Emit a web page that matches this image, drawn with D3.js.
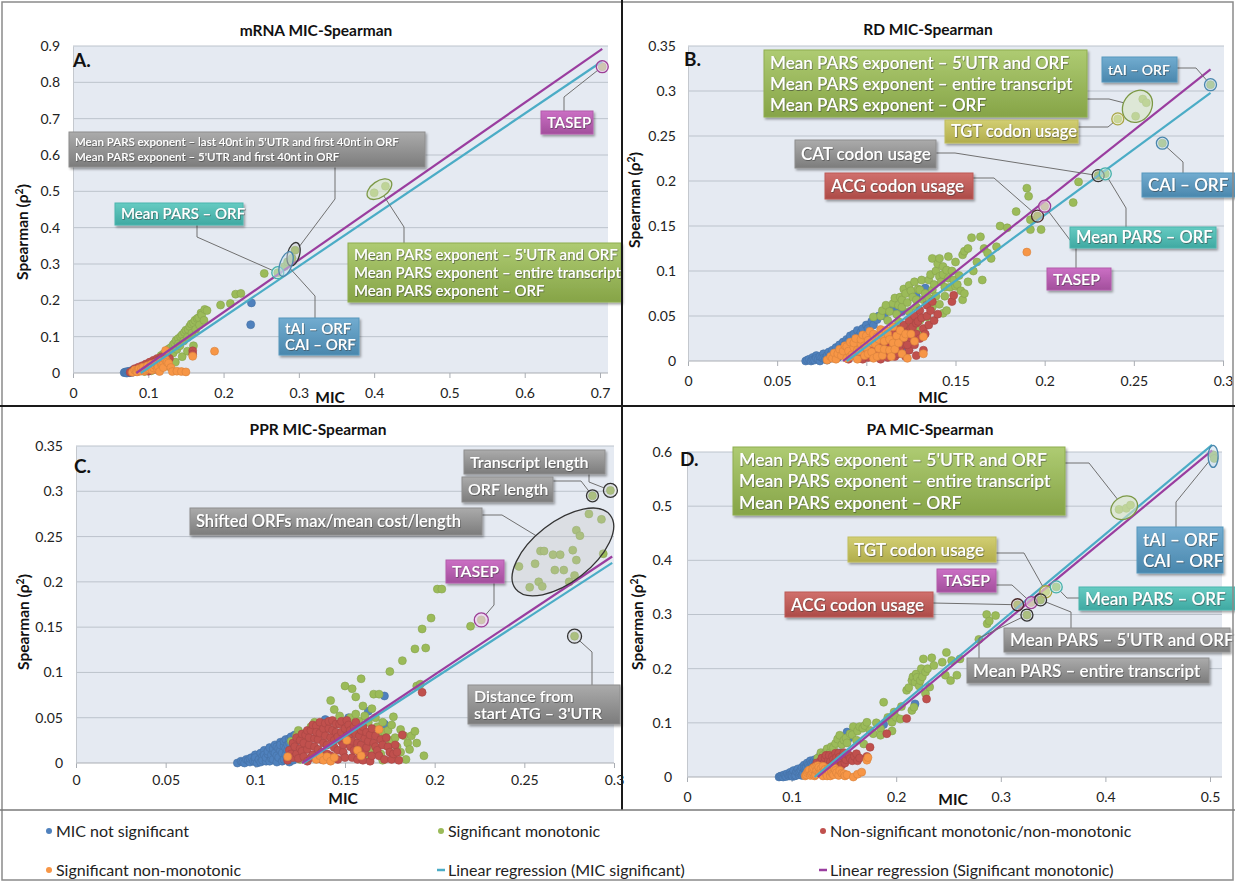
<!DOCTYPE html>
<html>
<head>
<meta charset="utf-8">
<script src="https://cdn.jsdelivr.net/npm/d3@7"></script>
<style>
  body { margin: 0; background: #fff; }
  text { font-family: Lato, "Open Sans", sans-serif; }
</style>
</head>
<body>
<svg id="chart" width="1235" height="882"></svg>
<script>
// ---- data: [MIC, Spearman rho^2] ----

// A. mRNA
const aBlue = [[0.068,0.001],[0.069,0.002],[0.07,0.003],[0.071,0.001],[0.072,0],[0.073,0.004],[0.074,0.004],[0.075,0.001],[0.076,0.002],[0.077,0.006],[0.078,0.004],[0.079,0.002],[0.08,0.008],[0.081,0.005],[0.082,0.004],[0.083,0.007],[0.084,0.011],[0.085,0.009],[0.086,0.006],[0.087,0.01],[0.089,0.013],[0.092,0.009],[0.095,0.016],[0.237,0.193],[0.236,0.133]];
const aGreen = [[0.095,0.004],[0.1,0.012],[0.102,0.02],[0.104,0.006],[0.106,0.012],[0.107,0.02],[0.109,0.025],[0.11,0.03],[0.112,0.035],[0.113,0.015],[0.114,0.022],[0.116,0.04],[0.117,0.048],[0.118,0.026],[0.12,0.052],[0.121,0.044],[0.123,0.036],[0.124,0.05],[0.125,0.06],[0.127,0.066],[0.128,0.045],[0.128,0.018],[0.13,0.07],[0.13,0.06],[0.133,0.055],[0.133,0.078],[0.135,0.082],[0.136,0.03],[0.137,0.09],[0.138,0.065],[0.14,0.095],[0.14,0.08],[0.142,0.075],[0.143,0.1],[0.145,0.105],[0.145,0.045],[0.147,0.088],[0.148,0.112],[0.15,0.118],[0.152,0.098],[0.152,0.06],[0.153,0.12],[0.155,0.128],[0.157,0.135],[0.158,0.11],[0.16,0.138],[0.16,0.075],[0.162,0.145],[0.163,0.12],[0.165,0.15],[0.167,0.152],[0.168,0.132],[0.17,0.165],[0.171,0.16],[0.174,0.145],[0.175,0.175],[0.178,0.172],[0.196,0.187],[0.209,0.191],[0.216,0.217],[0.223,0.219],[0.254,0.274],[0.272,0.276],[0.281,0.293],[0.285,0.306],[0.291,0.316],[0.295,0.338],[0.4,0.496],[0.415,0.514],[0.703,0.843]];
const aRed = [[0.076,0.002],[0.079,0.006],[0.08,0.003],[0.082,0.012],[0.083,0.008],[0.085,0.004],[0.087,0.016],[0.088,0.006],[0.09,0.009],[0.091,0.014],[0.092,0.02],[0.094,0.008],[0.095,0.013],[0.097,0.025],[0.098,0.019],[0.1,0.017],[0.1,0.005],[0.102,0.03],[0.103,0.024],[0.105,0.022],[0.106,0.015],[0.107,0.035],[0.108,0.03],[0.11,0.026],[0.11,0.01],[0.112,0.04],[0.113,0.035],[0.115,0.03],[0.116,0.038],[0.118,0.045],[0.12,0.042],[0.121,0.035],[0.125,0.048],[0.128,0.04],[0.159,0.061],[0.159,0.052]];
const aOrange = [[0.079,0.002],[0.082,0.008],[0.084,0.006],[0.085,0.003],[0.087,0.009],[0.088,0.012],[0.09,0.005],[0.091,0.013],[0.093,0.016],[0.095,0.005],[0.096,0.008],[0.098,0.012],[0.099,0.02],[0.101,0.011],[0.102,0.017],[0.104,0.024],[0.105,0.008],[0.107,0.014],[0.109,0.021],[0.11,0.028],[0.112,0.012],[0.113,0.018],[0.115,0.004],[0.116,0.032],[0.117,0.025],[0.119,0.022],[0.12,0.015],[0.123,0.037],[0.125,0.03],[0.127,0.027],[0.13,0.015],[0.123,0.062],[0.159,0.046],[0.188,0.06],[0.132,0.004],[0.138,0.005],[0.144,0.004],[0.15,0.003]];
const aTeal = [[0.09,0],[0.703,0.858]];
const aPurple = [[0.084,0],[0.703,0.892]];

// B. RD
const bBlue = [[0.066,0],[0.067,0.001],[0.068,0.002],[0.069,0],[0.07,0.004],[0.07,0.001],[0.071,0.001],[0.072,0.006],[0.072,0.003],[0.073,0.002],[0.074,0],[0.074,0.005],[0.075,0.004],[0.076,0.008],[0.076,0.003],[0.077,0.002],[0.078,0.006],[0.078,0.001],[0.079,0.01],[0.08,0.003],[0.08,0.007],[0.081,0.012],[0.081,0.004],[0.082,0.007],[0.083,0.015],[0.083,0.009],[0.084,0.004],[0.085,0.018],[0.085,0.006],[0.086,0.01],[0.086,0.014],[0.087,0.021],[0.088,0.009],[0.088,0.018],[0.089,0.024],[0.09,0.014],[0.09,0.022],[0.091,0.028],[0.092,0.019],[0.093,0.03],[0.094,0.024],[0.095,0.034],[0.096,0.028],[0.097,0.032],[0.098,0.036],[0.1,0.04],[0.101,0.036],[0.103,0.044],[0.104,0.04],[0.106,0.046],[0.107,0.05],[0.11,0.05],[0.113,0.056],[0.116,0.06],[0.117,0.015],[0.121,0.01],[0.12,0.055],[0.128,0.072],[0.133,0.081]];
const bGreen = [[0.104,0.049],[0.108,0.05],[0.109,0.056],[0.111,0.062],[0.112,0.045],[0.113,0.055],[0.115,0.064],[0.116,0.07],[0.117,0.052],[0.118,0.062],[0.118,0.044],[0.119,0.071],[0.12,0.06],[0.12,0.068],[0.121,0.08],[0.122,0.075],[0.122,0.038],[0.123,0.065],[0.124,0.084],[0.124,0.055],[0.125,0.078],[0.126,0.071],[0.126,0.049],[0.126,0.027],[0.127,0.088],[0.128,0.06],[0.128,0.068],[0.129,0.08],[0.13,0.079],[0.13,0.045],[0.13,0.034],[0.131,0.09],[0.132,0.068],[0.133,0.075],[0.134,0.049],[0.134,0.067],[0.135,0.09],[0.135,0.07],[0.136,0.096],[0.137,0.114],[0.137,0.079],[0.137,0.06],[0.138,0.085],[0.139,0.1],[0.139,0.072],[0.14,0.108],[0.141,0.114],[0.141,0.094],[0.141,0.063],[0.142,0.088],[0.143,0.105],[0.143,0.053],[0.143,0.096],[0.144,0.082],[0.144,0.072],[0.145,0.101],[0.145,0.056],[0.146,0.116],[0.146,0.092],[0.147,0.082],[0.148,0.1],[0.149,0.09],[0.15,0.083],[0.15,0.11],[0.151,0.085],[0.152,0.095],[0.153,0.078],[0.154,0.068],[0.154,0.118],[0.155,0.075],[0.155,0.122],[0.157,0.125],[0.157,0.088],[0.159,0.137],[0.16,0.1],[0.162,0.11],[0.164,0.138],[0.165,0.09],[0.166,0.125],[0.168,0.12],[0.17,0.114],[0.173,0.127],[0.175,0.15],[0.179,0.148],[0.184,0.166],[0.19,0.192],[0.191,0.183],[0.192,0.157],[0.192,0.146],[0.198,0.146],[0.196,0.161],[0.2,0.172],[0.216,0.176],[0.219,0.199],[0.23,0.206],[0.234,0.208],[0.241,0.269],[0.251,0.272],[0.255,0.291],[0.257,0.287],[0.266,0.242],[0.293,0.307]];
const bRed = [[0.09,0.002],[0.093,0.006],[0.096,0.003],[0.098,0.002],[0.099,0.01],[0.101,0.004],[0.102,0.008],[0.103,0.013],[0.105,0.007],[0.106,0.012],[0.107,0.017],[0.108,0.002],[0.109,0.015],[0.11,0.021],[0.111,0.01],[0.112,0.026],[0.112,0.004],[0.113,0.02],[0.114,0.015],[0.115,0.03],[0.116,0.005],[0.116,0.025],[0.117,0.02],[0.118,0.035],[0.118,0.008],[0.119,0.012],[0.12,0.026],[0.12,0.032],[0.121,0.04],[0.122,0.018],[0.122,0.005],[0.123,0.032],[0.124,0.045],[0.124,0.012],[0.125,0.024],[0.125,0.036],[0.126,0.038],[0.127,0.05],[0.127,0.018],[0.128,0.03],[0.128,0.042],[0.128,0.006],[0.129,0.044],[0.13,0.056],[0.13,0.025],[0.131,0.048],[0.132,0.036],[0.132,0.012],[0.133,0.03],[0.134,0.05],[0.134,0.062],[0.135,0.04],[0.136,0.056],[0.137,0.066],[0.138,0.045],[0.14,0.052],[0.148,0.066],[0.149,0.073],[0.123,0.018]];
const bOrange = [[0.078,0.001],[0.08,0.005],[0.081,0.003],[0.082,0.009],[0.083,0.002],[0.084,0.008],[0.085,0.013],[0.086,0.006],[0.087,0.011],[0.088,0.017],[0.089,0.003],[0.089,0.016],[0.09,0.011],[0.091,0.021],[0.091,0.005],[0.092,0.007],[0.093,0.015],[0.093,0.02],[0.094,0.025],[0.095,0.002],[0.095,0.012],[0.096,0.011],[0.097,0.019],[0.097,0.024],[0.098,0.029],[0.099,0.006],[0.099,0.017],[0.1,0.015],[0.1,0.028],[0.101,0.023],[0.101,0.008],[0.102,0.033],[0.103,0.01],[0.103,0.02],[0.104,0.003],[0.104,0.03],[0.105,0.019],[0.106,0.027],[0.106,0.005],[0.107,0.014],[0.107,0.024],[0.108,0.035],[0.109,0.006],[0.109,0.028],[0.11,0.022],[0.11,0.013],[0.111,0.034],[0.112,0.03],[0.113,0.012],[0.113,0.024],[0.114,0.005],[0.115,0.02],[0.115,0.038],[0.116,0.013],[0.117,0.028],[0.118,0.02],[0.119,0.034],[0.12,0.008],[0.121,0.026],[0.122,0.03],[0.125,0.03],[0.127,0.022],[0.132,0.027],[0.132,0.008],[0.123,0.003],[0.19,0.121]];
const bTeal = [[0.089,0],[0.293,0.298]];
const bPurple = [[0.087,0],[0.293,0.324]];

// C. PPR
const cBlue = [[0.09,0],[0.092,0.002],[0.093,0.001],[0.094,0],[0.095,0.004],[0.096,0.003],[0.097,0.001],[0.097,0.005],[0.098,0.006],[0.099,0.002],[0.1,0.009],[0.1,0.002],[0.1,0.006],[0.101,0],[0.102,0.004],[0.103,0.011],[0.103,0.001],[0.104,0.007],[0.104,0.003],[0.105,0.014],[0.105,0.009],[0.106,0.002],[0.106,0.006],[0.107,0.01],[0.107,0.013],[0.108,0.017],[0.108,0.002],[0.109,0.005],[0.109,0.009],[0.11,0.013],[0.11,0.016],[0.11,0.004],[0.111,0.02],[0.111,0.011],[0.112,0.008],[0.112,0.018],[0.112,0.001],[0.113,0.016],[0.113,0.006],[0.114,0.023],[0.114,0.014],[0.114,0.02],[0.115,0.002],[0.115,0.011],[0.116,0.019],[0.116,0.004],[0.116,0.024],[0.117,0.026],[0.117,0.009],[0.117,0.016],[0.118,0.006],[0.118,0.014],[0.118,0.02],[0.119,0.022],[0.119,0.001],[0.119,0.027],[0.12,0.029],[0.12,0.011],[0.12,0.024],[0.121,0.003],[0.121,0.017],[0.122,0.031],[0.122,0.007],[0.122,0.02],[0.123,0.026],[0.123,0.013],[0.139,0.048],[0.152,0.05],[0.163,0.057],[0.172,0.074],[0.172,0.043]];
const cGreen = [[0.12,0.024],[0.123,0.03],[0.124,0.036],[0.125,0.004],[0.127,0.027],[0.128,0.033],[0.131,0.04],[0.133,0.045],[0.137,0.04],[0.142,0.069],[0.144,0.059],[0.147,0.052],[0.15,0.085],[0.15,0.033],[0.153,0.05],[0.154,0.082],[0.156,0.073],[0.156,0.054],[0.158,0.019],[0.158,0.046],[0.159,0.093],[0.16,0.063],[0.16,0.04],[0.161,0.052],[0.162,0.008],[0.163,0.045],[0.165,0.06],[0.165,0.015],[0.166,0.076],[0.167,0.05],[0.168,0.04],[0.169,0.076],[0.169,0.03],[0.17,0.01],[0.171,0.045],[0.171,0.003],[0.172,0.034],[0.173,0.019],[0.174,0.036],[0.175,0.101],[0.175,0.02],[0.176,0.042],[0.176,0.025],[0.177,0.051],[0.177,0.008],[0.178,0.028],[0.179,0.018],[0.181,0.037],[0.181,0.012],[0.182,0.113],[0.183,0.03],[0.184,0.004],[0.185,0.022],[0.186,0.015],[0.187,0.03],[0.189,0.035],[0.189,0.126],[0.19,0.022],[0.19,0.085],[0.192,0.087],[0.193,0.148],[0.194,0.008],[0.195,0.127],[0.198,0.16],[0.2015,0.192],[0.204,0.192],[0.22,0.151],[0.226,0.158],[0.247,0.217],[0.253,0.194],[0.256,0.22],[0.258,0.2],[0.259,0.234],[0.26,0.195],[0.261,0.234],[0.266,0.23],[0.267,0.213],[0.27,0.23],[0.272,0.213],[0.275,0.2],[0.277,0.235],[0.278,0.207],[0.278,0.14],[0.279,0.257],[0.279,0.224],[0.281,0.251],[0.286,0.275],[0.288,0.295],[0.293,0.269],[0.294,0.231],[0.298,0.301]];
const cRed = [[0.118,0.003],[0.119,0.014],[0.12,0.01],[0.121,0.006],[0.121,0.022],[0.122,0.018],[0.123,0.01],[0.123,0.028],[0.124,0.005],[0.125,0.025],[0.125,0.016],[0.126,0.013],[0.126,0.032],[0.127,0.007],[0.127,0.022],[0.128,0.031],[0.129,0.002],[0.129,0.036],[0.129,0.015],[0.13,0.02],[0.13,0.028],[0.131,0.036],[0.131,0.006],[0.132,0.009],[0.132,0.042],[0.133,0.027],[0.133,0.018],[0.134,0.041],[0.134,0.034],[0.135,0.015],[0.135,0.026],[0.136,0.033],[0.136,0.045],[0.137,0.004],[0.137,0.012],[0.138,0.022],[0.138,0.038],[0.139,0.044],[0.139,0.03],[0.14,0.01],[0.14,0.02],[0.141,0.038],[0.141,0.046],[0.142,0.028],[0.142,0.008],[0.143,0.047],[0.143,0.036],[0.144,0.017],[0.144,0.025],[0.145,0.034],[0.145,0.043],[0.146,0.004],[0.146,0.014],[0.146,0.029],[0.147,0.043],[0.148,0.024],[0.148,0.034],[0.148,0.046],[0.149,0.012],[0.149,0.02],[0.15,0.038],[0.15,0.006],[0.151,0.047],[0.151,0.03],[0.152,0.029],[0.152,0.042],[0.153,0.018],[0.153,0.036],[0.154,0.006],[0.154,0.024],[0.155,0.04],[0.155,0.014],[0.156,0.032],[0.156,0.045],[0.157,0.022],[0.157,0.004],[0.158,0.012],[0.158,0.03],[0.159,0.036],[0.159,0.02],[0.16,0.003],[0.16,0.04],[0.161,0.027],[0.161,0.011],[0.162,0.017],[0.162,0.034],[0.163,0.024],[0.164,0.031],[0.164,0.002],[0.165,0.008],[0.165,0.038],[0.166,0.022],[0.167,0.018],[0.167,0.03],[0.168,0.014],[0.169,0.008],[0.17,0.026],[0.171,0.02],[0.172,0.004],[0.173,0.028],[0.174,0.018],[0.175,0.012],[0.176,0.004],[0.177,0.01],[0.178,0.02],[0.179,0.012],[0.18,0.003],[0.182,0.031],[0.193,0.078]];
const cOrange = [[0.118,0.007],[0.134,0.004],[0.136,0.008],[0.138,0.003],[0.14,0.007],[0.142,0.002],[0.144,0.006],[0.151,0.025],[0.157,0.014],[0.159,0.008],[0.169,0.037]];
const cTeal = [[0.127,0],[0.299,0.221]];
const cPurple = [[0.126,0],[0.299,0.228]];

// D. PA
const dBlue = [[0.088,0],[0.089,0.001],[0.09,0.002],[0.091,0.001],[0.092,0],[0.093,0.004],[0.094,0.002],[0.095,0.001],[0.096,0.006],[0.097,0.003],[0.098,0.002],[0.099,0.009],[0.099,0.004],[0.1,0.004],[0.101,0.006],[0.101,0.001],[0.102,0.012],[0.103,0.002],[0.104,0.007],[0.104,0.003],[0.105,0.01],[0.106,0.015],[0.107,0.004],[0.107,0.008],[0.108,0.01],[0.109,0.013],[0.11,0.018],[0.11,0.003],[0.111,0.006],[0.112,0.022],[0.112,0.016],[0.113,0.013],[0.114,0.01],[0.114,0.019],[0.115,0.026],[0.116,0.008],[0.116,0.022],[0.117,0.018],[0.118,0.03],[0.118,0.014],[0.119,0.025],[0.12,0.022],[0.121,0.012],[0.121,0.028],[0.122,0.032],[0.123,0.027],[0.124,0.03],[0.125,0.034],[0.127,0.038],[0.13,0.042],[0.133,0.045],[0.14,0.05],[0.147,0.045],[0.153,0.083],[0.155,0.072],[0.188,0.097],[0.218,0.135]];
const dGreen = [[0.125,0.035],[0.128,0.045],[0.13,0.04],[0.133,0.047],[0.134,0.052],[0.137,0.046],[0.138,0.056],[0.14,0.054],[0.142,0.062],[0.144,0.07],[0.146,0.077],[0.148,0.06],[0.15,0.068],[0.152,0.072],[0.153,0.063],[0.156,0.08],[0.158,0.078],[0.159,0.093],[0.162,0.068],[0.163,0.085],[0.165,0.093],[0.168,0.09],[0.169,0.061],[0.17,0.095],[0.172,0.101],[0.175,0.086],[0.178,0.08],[0.181,0.1],[0.185,0.089],[0.185,0.077],[0.188,0.138],[0.192,0.11],[0.196,0.101],[0.196,0.085],[0.198,0.12],[0.2,0.11],[0.204,0.107],[0.205,0.13],[0.21,0.16],[0.212,0.165],[0.215,0.178],[0.215,0.123],[0.216,0.185],[0.217,0.129],[0.218,0.175],[0.219,0.19],[0.22,0.184],[0.222,0.168],[0.223,0.178],[0.224,0.2],[0.225,0.185],[0.226,0.218],[0.228,0.194],[0.228,0.154],[0.23,0.2],[0.232,0.166],[0.234,0.22],[0.236,0.206],[0.244,0.212],[0.247,0.188],[0.248,0.23],[0.252,0.178],[0.253,0.215],[0.258,0.188],[0.261,0.218],[0.279,0.254],[0.287,0.283],[0.2865,0.3],[0.289,0.288],[0.295,0.298],[0.316,0.318],[0.325,0.299],[0.329,0.322],[0.338,0.327],[0.343,0.342],[0.353,0.351],[0.413,0.494],[0.42,0.496],[0.424,0.502],[0.503,0.595],[0.504,0.588]];
const dRed = [[0.121,0.018],[0.123,0.02],[0.124,0.026],[0.126,0.01],[0.127,0.022],[0.128,0.03],[0.129,0.035],[0.13,0.018],[0.131,0.026],[0.132,0.035],[0.133,0.04],[0.134,0.024],[0.135,0.03],[0.136,0.04],[0.137,0.028],[0.138,0.02],[0.139,0.038],[0.14,0.032],[0.141,0.026],[0.142,0.044],[0.143,0.036],[0.144,0.028],[0.145,0.044],[0.146,0.037],[0.147,0.03],[0.148,0.022],[0.149,0.038],[0.15,0.045],[0.151,0.026],[0.152,0.032],[0.153,0.042],[0.155,0.04],[0.156,0.034],[0.158,0.03],[0.16,0.038],[0.162,0.043],[0.163,0.03],[0.165,0.035],[0.172,0.038],[0.175,0.055],[0.191,0.08],[0.21,0.108],[0.229,0.144]];
const dOrange = [[0.113,0.002],[0.114,0.004],[0.115,0.008],[0.116,0.011],[0.117,0.013],[0.118,0.003],[0.119,0.006],[0.12,0.009],[0.12,0.015],[0.121,0.017],[0.122,0.002],[0.123,0.004],[0.123,0.019],[0.124,0.012],[0.125,0.021],[0.126,0.01],[0.126,0.018],[0.127,0.007],[0.128,0.015],[0.129,0.008],[0.13,0.002],[0.13,0.02],[0.131,0.011],[0.132,0.014],[0.133,0.006],[0.134,0.002],[0.135,0.016],[0.136,0.01],[0.137,0.002],[0.138,0.009],[0.139,0.006],[0.14,0.004],[0.141,0.016],[0.142,0.012],[0.143,0.008],[0.145,0.003],[0.146,0.012],[0.148,0.007],[0.15,0.006],[0.151,0.002],[0.153,0.004],[0.159,0],[0.163,0.005],[0.167,0.009],[0.172,0.031],[0.173,0.036]];
const dTeal = [[0.122,0],[0.502,0.613]];
const dPurple = [[0.125,0],[0.502,0.603]];

const panelTitles = ["mRNA MIC-Spearman", "RD MIC-Spearman", "PPR MIC-Spearman", "PA MIC-Spearman"];
const panelLetters = ["A.", "B.", "C.", "D."];
const legendLabels = ["MIC not significant", "Significant monotonic", "Non-significant monotonic/non-monotonic",
  "Significant non-monotonic", "Linear regression (MIC significant)", "Linear regression (Significant monotonic)"];

const colors = { blue: "#4f81bd", green: "#9bbb59", red: "#c0504d", orange: "#f79646", teal: "#4bacc6", purple: "#9a3d9f" };

// annotation callouts (box in pixels, target in data units)
const notesA = [
  { lines: ["Mean PARS exponent – last 40nt in 5'UTR and first 40nt in ORF", "Mean PARS exponent – 5'UTR and first 40nt in ORF"], kind: "gray", box: [69, 132, 356, 35], fs: 11.5, path: [[335, 167], [335, 199]], at: [0.293, 0.327], r: [6, 12, 15] },
  { lines: ["Mean PARS – ORF"], kind: "teal", box: [115, 203, 128, 22], fs: 15, path: [[197, 225], [197, 237]], at: [0.272, 0.276], r: [6, 6, 0] },
  { lines: ["tAI – ORF", "CAI – ORF"], kind: "blue", box: [279, 318, 80, 37], fs: 15, path: [[315, 318], [315, 296]], at: [0.283, 0.3], r: [6, 13, 20] },
  { lines: ["Mean PARS exponent – 5'UTR and ORF", "Mean PARS exponent – entire transcript", "Mean PARS exponent – ORF"], kind: "green", box: [348, 243, 273, 59], fs: 15, path: [[404, 243], [404, 227]], at: [0.407, 0.506], r: [14, 8, -35] },
  { lines: ["TASEP"], kind: "magenta", box: [541, 111, 52, 23], fs: 15, path: [[564, 111], [564, 97]], at: [0.703, 0.843], r: [6, 6, 0] }
];
const notesB = [
  { lines: ["Mean PARS exponent – 5'UTR and ORF", "Mean PARS exponent – entire transcript", "Mean PARS exponent – ORF"], kind: "green", box: [764, 50, 323, 67], fs: 17, path: [[1087, 99], [1109, 99]], at: [0.252, 0.283], r: [14, 17, 35] },
  { lines: ["TGT codon usage"], kind: "yellow", box: [945, 120, 133, 23], fs: 16.5, path: [[1078, 127], [1108, 127]], at: [0.241, 0.269], r: [6, 6, 0] },
  { lines: ["tAI – ORF"], kind: "blue", box: [1102, 57, 75, 25], fs: 14, path: [[1177, 68], [1196, 68]], at: [0.293, 0.307], r: [6, 6, 0] },
  { lines: ["CAT codon usage"], kind: "gray", box: [795, 140, 141, 28], fs: 17, path: [[936, 153], [955, 153]], at: [0.23, 0.206], r: [6, 6, 0] },
  { lines: ["ACG codon usage"], kind: "red", box: [825, 173, 148, 26], fs: 17, path: [[973, 178], [994, 178]], at: [0.196, 0.161], r: [6, 6, 0] },
  { lines: ["CAI – ORF"], kind: "blue", box: [1142, 173, 93, 24], fs: 17, path: [[1183, 173], [1183, 162]], at: [0.266, 0.242], r: [6, 6, 0] },
  { lines: ["Mean PARS – ORF"], kind: "teal", box: [1070, 227, 146, 21], fs: 16.5, path: [[1126, 227], [1126, 208]], at: [0.234, 0.208], r: [6, 6, 0] },
  { lines: ["TASEP"], kind: "magenta", box: [1047, 268, 64, 22], fs: 16, path: [[1076, 268], [1076, 248]], at: [0.2, 0.172], r: [6, 6, 0] }
];
const notesC = [
  { lines: ["Transcript length"], kind: "gray", box: [464, 450, 141, 24], fs: 16, path: [[589, 474], [589, 482]], at: [0.298, 0.301], r: [7, 7, 0] },
  { lines: ["ORF length"], kind: "gray", box: [462, 477, 91, 25], fs: 16, path: [[553, 481], [581, 481]], at: [0.288, 0.295], r: [6, 6, 0] },
  { lines: ["Shifted ORFs max/mean cost/length"], kind: "gray", box: [190, 508, 292, 27], fs: 16.5, path: [[482, 515], [502, 515]], at: [0.2715, 0.233], r: [60, 30, -38] },
  { lines: ["TASEP"], kind: "magenta", box: [446, 560, 58, 23], fs: 16, path: [[494, 583], [494, 605]], at: [0.226, 0.158], r: [7, 7, 0] },
  { lines: ["Distance from", "start ATG – 3'UTR"], kind: "gray", box: [468, 685, 152, 39], fs: 16, path: [[592, 685], [592, 652]], at: [0.278, 0.14], r: [7, 7, 0] }
];
const notesD = [
  { lines: ["Mean PARS exponent – 5'UTR and ORF", "Mean PARS exponent – entire transcript", "Mean PARS exponent – ORF"], kind: "green", box: [733, 447, 332, 68], fs: 17.5, path: [[1065, 463], [1089, 463]], at: [0.418, 0.497], r: [14, 11, -30] },
  { lines: ["tAI – ORF", "CAI – ORF"], kind: "blue", box: [1137, 527, 86, 46], fs: 17, path: [[1176, 527], [1176, 502]], at: [0.503, 0.592], r: [5, 11, 0] },
  { lines: ["TGT codon usage"], kind: "yellow", box: [848, 537, 148, 25], fs: 17, path: [[996, 553], [1024, 553]], at: [0.343, 0.342], r: [6, 6, 0] },
  { lines: ["TASEP"], kind: "magenta", box: [937, 569, 59, 23], fs: 16, path: [[996, 585], [1012, 585]], at: [0.329, 0.322], r: [6, 6, 0] },
  { lines: ["ACG codon usage"], kind: "red", box: [785, 592, 148, 25], fs: 17, path: [[933, 603]], at: [0.316, 0.318], r: [6, 6, 0] },
  { lines: ["Mean PARS – ORF"], kind: "teal", box: [1079, 587, 156, 23], fs: 17, path: [[1079, 598], [1067, 598]], at: [0.353, 0.351], r: [6, 6, 0] },
  { lines: ["Mean PARS – 5'UTR and ORF"], kind: "gray", box: [1004, 628, 226, 24], fs: 17, path: [[1071, 628], [1071, 612]], at: [0.338, 0.327], r: [6, 6, 0] },
  { lines: ["Mean PARS – entire transcript"], kind: "gray", box: [967, 658, 242, 25], fs: 17, path: [[979, 658], [979, 638]], at: [0.325, 0.299], r: [6, 6, 0] }
];

// box fills: [top, bottom, border, ring stroke, ring fill]
const noteStyles = {
  gray:    ["#ababab", "#7c7c7c", "#8e8e8e", "#333333", "rgba(200,200,200,0.35)"],
  green:   ["#aecb72", "#86a447", "#8fae50", "#7b9845", "rgba(215,228,195,0.6)"],
  teal:    ["#66cbc2", "#3fa9a2", "#4ab6ae", "#45b0aa", "rgba(200,235,232,0.5)"],
  blue:    ["#72acd0", "#4a87ad", "#5797bd", "#4a87ad", "rgba(200,222,238,0.5)"],
  magenta: ["#cb6fc4", "#a24f9c", "#b35dac", "#9c3f96", "rgba(240,205,236,0.6)"],
  red:     ["#d0706c", "#ad4b48", "#bd5b57", "#4a2a2a", "rgba(230,200,200,0.4)"],
  yellow:  ["#d2ce72", "#b1ad4c", "#c0bd5e", "#a9a645", "rgba(235,235,195,0.6)"]
};

const panels = [
  { title: panelTitles[0], letter: panelLetters[0], series: [aBlue, aGreen, aRed, aOrange], lines: [aTeal, aPurple], notes: notesA,
    xMax: 0.7, xStep: 0.1, yMax: 0.9, yStep: 0.1, left: 73, xEnd: 600, right: 608, top: 46, bottom: 373,
    titleX: 316, titleY: 31, micX: 330, micY: 398, ylabX: 23, ylabY: 232, tickRight: 60, letterX: 73, letterY: 60 },
  { title: panelTitles[1], letter: panelLetters[1], series: [bBlue, bGreen, bRed, bOrange], lines: [bTeal, bPurple], notes: notesB,
    xMax: 0.3, xStep: 0.05, yMax: 0.35, yStep: 0.05, left: 688, xEnd: 1223, right: 1224, top: 46, bottom: 361,
    titleX: 928, titleY: 30, micX: 933, micY: 398, ylabX: 635, ylabY: 200, tickRight: 676, letterX: 684, letterY: 59 },
  { title: panelTitles[2], letter: panelLetters[2], series: [cBlue, cGreen, cRed, cOrange], lines: [cTeal, cPurple], notes: notesC,
    xMax: 0.3, xStep: 0.05, yMax: 0.35, yStep: 0.05, left: 76, xEnd: 614, right: 614, top: 446, bottom: 763,
    titleX: 318, titleY: 430, micX: 343, micY: 799, ylabX: 24, ylabY: 622, tickRight: 63, letterX: 74, letterY: 466, tickPad: 7 },
  { title: panelTitles[3], letter: panelLetters[3], series: [dBlue, dGreen, dRed, dOrange], lines: [dTeal, dPurple], notes: notesD,
    xMax: 0.5, xStep: 0.1, yMax: 0.6, yStep: 0.1, left: 687, xEnd: 1210, right: 1222, top: 452, bottom: 777,
    titleX: 930, titleY: 430, micX: 953, micY: 800, ylabX: 638, ylabY: 622, tickRight: 672, letterX: 680, letterY: 459 }
];
const seriesColors = [colors.blue, colors.green, colors.red, colors.orange];
const lineColors = [colors.teal, colors.purple];

const svg = d3.select("#chart");
const defs = svg.append("defs");

const shadow = defs.append("filter").attr("id", "boxShadow").attr("x", "-10%").attr("y", "-20%").attr("width", "130%").attr("height", "160%");
shadow.append("feDropShadow").attr("dx", 1.5).attr("dy", 2).attr("stdDeviation", 1.2).attr("flood-color", "#000").attr("flood-opacity", 0.35);
const textShadow = defs.append("filter").attr("id", "textShadow").attr("x", "-5%").attr("y", "-20%").attr("width", "110%").attr("height", "150%");
textShadow.append("feDropShadow").attr("dx", 0.6).attr("dy", 0.8).attr("stdDeviation", 0.5).attr("flood-color", "#333").attr("flood-opacity", 0.7);

Object.keys(noteStyles).forEach(k => {
  const gr = defs.append("linearGradient").attr("id", "grad-" + k).attr("x1", 0).attr("y1", 0).attr("x2", 0).attr("y2", 1);
  gr.append("stop").attr("offset", "0%").attr("stop-color", noteStyles[k][0]);
  gr.append("stop").attr("offset", "100%").attr("stop-color", noteStyles[k][1]);
});

svg.append("rect").attr("width", 1235).attr("height", 882).attr("fill", "#fff");

const fmt = v => String(+v.toFixed(2));

function ellipseEdge(cx, cy, rx, ry, rot, px, py) {
  const a = Math.atan2(py - cy, px - cx);
  const t = a - rot * Math.PI / 180;
  const r = rx * ry / Math.sqrt(Math.pow(ry * Math.cos(t), 2) + Math.pow(rx * Math.sin(t), 2));
  return [cx + r * Math.cos(a), cy + r * Math.sin(a)];
}

function drawPanel(p) {
  const x = d3.scaleLinear().domain([0, p.xMax]).range([p.left, p.xEnd]);
  const y = d3.scaleLinear().domain([0, p.yMax]).range([p.bottom, p.top]);
  const xTicks = d3.range(0, Math.round(p.xMax / p.xStep) + 1).map(i => +(i * p.xStep).toFixed(2));
  const yTicks = d3.range(0, Math.round(p.yMax / p.yStep) + 1).map(i => +(i * p.yStep).toFixed(2));

  const g = svg.append("g");

  g.append("rect")
    .attr("x", p.left).attr("y", p.top)
    .attr("width", p.right - p.left).attr("height", p.bottom - p.top)
    .attr("fill", "#e5eaf2");

  g.append("g").selectAll("line").data(yTicks.slice(1)).enter().append("line")
    .attr("x1", p.left).attr("x2", p.right)
    .attr("y1", d => y(d)).attr("y2", d => y(d))
    .attr("stroke", "#bcc3cc").attr("stroke-width", 1);

  const xAxis = g.append("g").attr("transform", `translate(0,${p.bottom})`)
    .call(d3.axisBottom(x).tickValues(xTicks).tickFormat(fmt).tickSizeInner(5).tickSizeOuter(0).tickPadding(p.tickPad || 10));
  xAxis.select(".domain").attr("d", `M${p.left},0H${p.right}`).attr("stroke", "#a9adb3");
  xAxis.selectAll(".tick line").attr("stroke", "#a9adb3");
  xAxis.selectAll("text").attr("font-size", 14).attr("fill", "#222").attr("font-family", "Lato, sans-serif");

  const yAxis = g.append("g").attr("transform", `translate(${p.left},0)`)
    .call(d3.axisLeft(y).tickValues(yTicks).tickFormat(fmt).tickSize(0).tickPadding(p.left - p.tickRight));
  yAxis.select(".domain").attr("stroke", "#c4c8ce");
  yAxis.selectAll("text").attr("font-size", 14).attr("fill", "#222").attr("font-family", "Lato, sans-serif");

  // scatter points
  p.series.forEach((s, i) => {
    g.append("g").selectAll("circle").data(s).enter().append("circle")
      .attr("cx", d => x(d[0])).attr("cy", d => y(d[1]))
      .attr("r", 4)
      .attr("fill", seriesColors[i])
      .attr("stroke", d3.color(seriesColors[i]).darker(0.4))
      .attr("stroke-width", 0.6);
  });

  // regression lines
  const line = d3.line().x(d => x(d[0])).y(d => y(d[1]));
  p.lines.forEach((l, i) => {
    g.append("path").datum(l).attr("d", line)
      .attr("fill", "none").attr("stroke", lineColors[i]).attr("stroke-width", 2.2);
  });

  // titles
  g.append("text").attr("x", p.titleX).attr("y", p.titleY).attr("dy", "0.35em")
    .attr("text-anchor", "middle").attr("font-size", 15.5).attr("font-weight", "bold").attr("fill", "#111")
    .text(p.title);
  g.append("text").attr("x", p.letterX).attr("y", p.letterY).attr("dy", "0.35em")
    .attr("font-size", 19).attr("font-weight", "bold").attr("fill", "#111")
    .text(p.letter);
  g.append("text").attr("x", p.micX).attr("y", p.micY).attr("dy", "0.35em")
    .attr("text-anchor", "middle").attr("font-size", 15.5).attr("font-weight", "bold").attr("fill", "#111")
    .text("MIC");
  const yl = g.append("text").attr("transform", `translate(${p.ylabX},${p.ylabY}) rotate(-90)`)
    .attr("text-anchor", "middle").attr("dy", "0.35em")
    .attr("font-size", 15.5).attr("font-weight", "bold").attr("fill", "#111");
  yl.append("tspan").text("Spearman (ρ");
  yl.append("tspan").attr("font-size", 10.5).attr("dy", "-0.55em").text("2");
  yl.append("tspan").attr("dy", "0.4em").text(")");

  // callouts: leader lines, rings, boxes
  const ng = g.append("g");
  p.notes.forEach(n => {
    const st = noteStyles[n.kind];
    const cx = x(n.at[0]), cy = y(n.at[1]);
    const last = n.path[n.path.length - 1];
    const end = ellipseEdge(cx, cy, n.r[0], n.r[1], n.r[2], last[0], last[1]);
    ng.append("path")
      .attr("d", d3.line()([...n.path, end]))
      .attr("fill", "none").attr("stroke", "#707070").attr("stroke-width", 1);
    ng.append("ellipse")
      .attr("transform", `translate(${cx},${cy}) rotate(${n.r[2]})`)
      .attr("rx", n.r[0]).attr("ry", n.r[1])
      .attr("fill", st[4]).attr("stroke", st[3]).attr("stroke-width", 1.3);
  });
  p.notes.forEach(n => {
    const st = noteStyles[n.kind];
    const [bx, by, bw, bh] = n.box;
    const bg = ng.append("g");
    bg.append("rect").attr("x", bx).attr("y", by).attr("width", bw).attr("height", bh)
      .attr("fill", `url(#grad-${n.kind})`).attr("stroke", st[2]).attr("stroke-width", 1)
      .attr("filter", "url(#boxShadow)");
    const lh = (bh - 4) / n.lines.length;
    n.lines.forEach((t, i) => {
      bg.append("text")
        .attr("x", bx + 6).attr("y", by + 2 + lh * (i + 0.5)).attr("dy", "0.36em")
        .attr("font-size", n.fs).attr("fill", "#fff").attr("font-weight", 600)
        .attr("filter", "url(#textShadow)")
        .text(t);
    });
  });
}

panels.forEach(drawPanel);

// frame and separators
svg.append("rect").attr("x", 2).attr("y", 2).attr("width", 1231).attr("height", 878)
  .attr("fill", "none").attr("stroke", "#8a8a8a").attr("stroke-width", 1.5);
svg.append("line").attr("x1", 622).attr("x2", 622).attr("y1", 0).attr("y2", 810)
  .attr("stroke", "#1a1a1a").attr("stroke-width", 2);
svg.append("line").attr("x1", 0).attr("x2", 1235).attr("y1", 406).attr("y2", 406)
  .attr("stroke", "#1a1a1a").attr("stroke-width", 2);
svg.append("line").attr("x1", 0).attr("x2", 1235).attr("y1", 810).attr("y2", 810)
  .attr("stroke", "#7a7a7a").attr("stroke-width", 1.5);

// legend
const legendItems = [
  { label: legendLabels[0], type: "dot", color: colors.blue, x: 49, y: 831 },
  { label: legendLabels[1], type: "dot", color: colors.green, x: 441, y: 831 },
  { label: legendLabels[2], type: "dot", color: colors.red, x: 823, y: 831 },
  { label: legendLabels[3], type: "dot", color: colors.orange, x: 49, y: 870 },
  { label: legendLabels[4], type: "line", color: colors.teal, x: 441, y: 870 },
  { label: legendLabels[5], type: "line", color: colors.purple, x: 823, y: 870 }
];
const lg = svg.append("g").selectAll("g").data(legendItems).enter().append("g")
  .attr("transform", d => `translate(${d.x},${d.y})`);
lg.filter(d => d.type === "dot").append("circle").attr("r", 3).attr("fill", d => d.color);
lg.filter(d => d.type === "line").append("line").attr("x1", -4).attr("x2", 4)
  .attr("stroke", d => d.color).attr("stroke-width", 2.5);
lg.append("text").attr("x", 7).attr("dy", "0.35em").attr("font-size", 16).attr("fill", "#222")
  .text(d => d.label);
</script>
</body>
</html>
